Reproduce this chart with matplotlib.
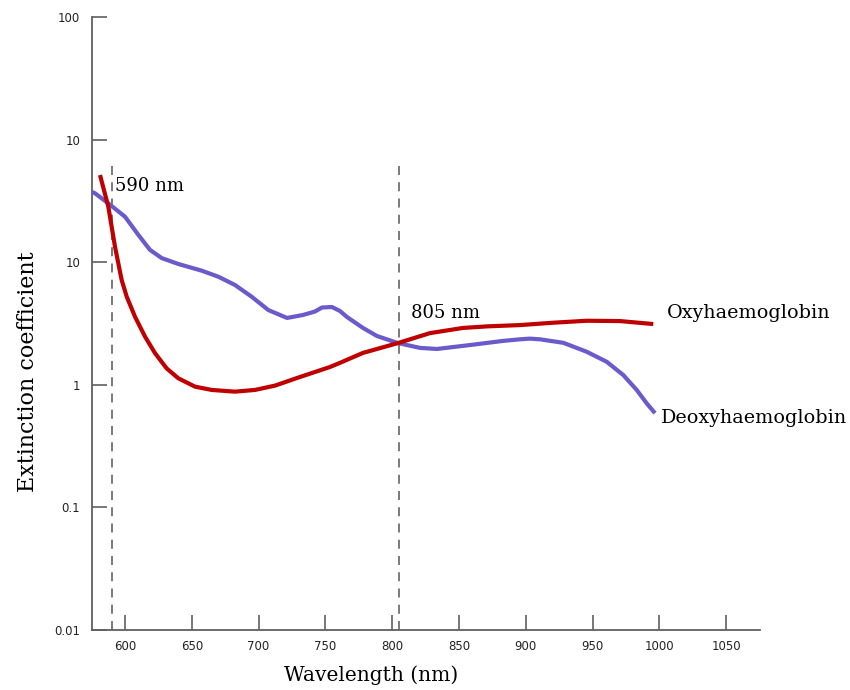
import matplotlib
matplotlib.use("Agg")
import matplotlib.pyplot as plt

# Extinction spectra of haemoglobin (wavelength in nm, coefficient on log scale)
oxy_wl = [581.3, 587.5, 592.5, 597.5, 601.3, 607.5, 615.0, 622.5, 631.2, 639.9,
          652.4, 664.9, 682.3, 697.3, 712.3, 728.7, 753.4, 760.9, 778.1, 804.3,
          828.3, 853.0, 872.0, 895.7, 920.6, 945.6, 970.5, 995.4]
oxy_val = [51.4, 28.4, 13.4, 7.16, 5.23, 3.59, 2.47, 1.81, 1.36, 1.13,
           0.966, 0.908, 0.879, 0.908, 0.985, 1.136, 1.397, 1.51, 1.82, 2.19,
           2.64, 2.91, 3.00, 3.07, 3.21, 3.33, 3.31, 3.13]

deoxy_wl = [575.3, 577.5, 587.5, 600.0, 610.0, 618.7, 627.5, 639.9, 657.4, 669.8,
            682.3, 694.8, 707.3, 721.3, 733.2, 742.2, 747.4, 754.9, 760.9, 766.2,
            778.1, 788.6, 804.3, 820.8, 833.5, 858.2, 882.9, 895.7, 903.1, 910.6,
            928.1, 945.6, 960.6, 973.0, 983.0, 990.5, 996.7]
deoxy_val = [37.4, 36.5, 30.2, 23.5, 16.7, 12.6, 10.8, 9.67, 8.53, 7.62,
             6.52, 5.23, 4.07, 3.51, 3.71, 3.96, 4.27, 4.31, 4.00, 3.57,
             2.91, 2.50, 2.19, 2.00, 1.96, 2.11, 2.28, 2.35, 2.38, 2.35,
             2.20, 1.86, 1.54, 1.20, 0.908, 0.706, 0.587]

x_ticks = [600, 650, 700, 750, 800, 850, 900, 950, 1000, 1050]
y_ticks = [0.01, 0.1, 1, 10, 100, 1000]
y_tick_labels = ["0.01", "0.1", "1", "10", "10", "100"]

marker_wl = [590, 805]
marker_labels = ["590 nm", "805 nm"]

serif = ["DejaVu Serif"]

fig = plt.figure(figsize=(8.5, 6.9), dpi=100)
ax = fig.add_axes([92 / 850, 60 / 690, 668 / 850, 613 / 690])

ax.set_yscale("log")
ax.set_xlim(575.3, 1075.3)
ax.set_ylim(0.01, 1000)

# isosbestic markers
for wl in marker_wl:
    ax.plot([wl, wl], [0.01, 62], ls=(0, (5, 4)), color="#707070", lw=1.3, zorder=1)

ax.plot(deoxy_wl, deoxy_val, color="#6a5acb", lw=3.0, solid_capstyle="butt",
        solid_joinstyle="round", zorder=3)
ax.plot(oxy_wl, oxy_val, color="#c00000", lw=3.0, solid_capstyle="butt",
        solid_joinstyle="round", zorder=4)

ax.text(592.5, 41.9, marker_labels[0], fontsize=13, family=serif, va="center", ha="left")
ax.text(814.1, 3.85, marker_labels[1], fontsize=13, family=serif, va="center", ha="left")
ax.text(1005.7, 3.85, "Oxyhaemoglobin", fontsize=13.8, family=serif, va="center",
        ha="left", clip_on=False)
ax.text(1001.2, 0.536, "Deoxyhaemoglobin", fontsize=13.8, family=serif, va="center",
        ha="left", clip_on=False)

for s in ["top", "right"]:
    ax.spines[s].set_visible(False)
for s in ["left", "bottom"]:
    ax.spines[s].set_color("#606060")
    ax.spines[s].set_linewidth(1.3)

ax.set_xticks(x_ticks)
ax.set_xticklabels([str(v) for v in x_ticks])
ax.set_yticks(y_ticks)
ax.set_yticklabels(y_tick_labels)
ax.yaxis.set_minor_locator(matplotlib.ticker.NullLocator())
ax.tick_params(axis="both", direction="in", length=11, width=1.2, color="#606060",
               labelsize=8.5, labelcolor="#222222")
ax.tick_params(axis="y", pad=8.5)
ax.tick_params(axis="x", pad=7)

ax.set_xlabel("Wavelength (nm)", fontsize=14.5, family=serif)
ax.set_ylabel("Extinction coefficient", fontsize=16, family=serif)
ax.xaxis.set_label_coords((371 - 92) / 668, (630 - 675) / 613)
ax.yaxis.set_label_coords((28 - 92) / 668, (630 - 372) / 613)
ax.xaxis.label.set_va("center")
ax.yaxis.label.set_va("center")

fig.savefig("out.png", dpi=100)
